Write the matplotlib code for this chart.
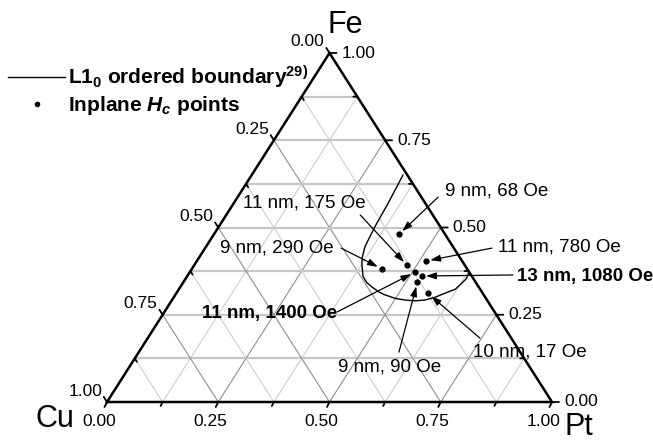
"""
Fe-Pt-Cu 三元相图：L1_0 有序边界与面内矫顽力点
"""
import numpy as np
import matplotlib
matplotlib.use("Agg")
import matplotlib.pyplot as plt
from matplotlib.lines import Line2D

plt.rcParams['font.family'] = ['Liberation Sans', 'DejaVu Sans']
plt.rcParams['mathtext.fontset'] = 'custom'
plt.rcParams['mathtext.rm'] = 'Liberation Sans:bold'
plt.rcParams['mathtext.it'] = 'Liberation Sans:bold:italic'
plt.rcParams['mathtext.bf'] = 'Liberation Sans:bold'

# 测量点 (Fe, Pt 组分, Cu = 1 - Fe - Pt)
point_labels = ['9 nm, 68 Oe', '11 nm, 780 Oe', '11 nm, 175 Oe', '9 nm, 290 Oe',
                '13 nm, 1080 Oe', '11 nm, 1400 Oe', '9 nm, 90 Oe', '10 nm, 17 Oe']
point_fe = [0.481, 0.404, 0.392, 0.382, 0.361, 0.372, 0.343, 0.311]
point_pt = [0.416, 0.515, 0.478, 0.426, 0.527, 0.506, 0.526, 0.566]
point_bold = [False, False, False, False, True, True, False, False]

# L1_0 有序边界
bound_fe = [0.650, 0.569, 0.502, 0.445, 0.416, 0.397, 0.359, 0.342, 0.330, 0.316, 0.307,
            0.297, 0.292, 0.290, 0.292, 0.300, 0.312, 0.323, 0.340, 0.354, 0.373]
bound_pt = [0.340, 0.347, 0.351, 0.357, 0.366, 0.374, 0.396, 0.413, 0.430, 0.452, 0.471,
            0.499, 0.524, 0.547, 0.568, 0.587, 0.604, 0.621, 0.627, 0.631, 0.627]

major = [0.0, 0.25, 0.5, 0.75, 1.0]
minor = [0.125, 0.375, 0.625, 0.875]

# 标注文字位置和箭头起点 (axes fraction)
text_pos = [(0.760, 0.605), (0.879, 0.444), (0.306, 0.570), (0.254, 0.441),
            (0.921, 0.361), (0.213, 0.255), (0.519, 0.100), (0.822, 0.143)]
tail_pos = [(0.744, 0.587), (0.865, 0.441), (0.569, 0.536), (0.526, 0.441),
            (0.912, 0.364), (0.517, 0.258), (0.656, 0.143), (0.838, 0.183)]


def tern(fe, pt):
    fe = np.asarray(fe, dtype=float)
    pt = np.asarray(pt, dtype=float)
    return pt + fe / 2, fe


fig = plt.figure(figsize=(6.53, 4.41), dpi=100)
ax = fig.add_axes([107 / 653, 39 / 441, 445 / 653, 349 / 441])
ax.set_xlim(0, 1)
ax.set_ylim(0, 1)
ax.axis('off')

# 网格
for k in range(1, 8):
    v = k / 8
    x, y = tern([v, v], [0, 1 - v])
    ax.plot(x, y, color='#c6c6c6', lw=1.6, zorder=1)
    dcol = '#8e8e8e' if k % 2 == 0 else '#cdcdcd'
    x, y = tern([0, 1 - v], [v, v])
    ax.plot(x, y, color=dcol, lw=0.8, zorder=1)
    x, y = tern([0, 1 - v], [1 - v, 0])
    ax.plot(x, y, color=dcol, lw=0.8, zorder=1)

# 三角形边框
x, y = tern([0, 0, 1, 0], [0, 1, 0, 0])
ax.plot(x, y, color='black', lw=1.8, clip_on=False, zorder=3, solid_joinstyle='miter')

tick = dict(arrowstyle='-', lw=1.3, color='black', shrinkA=0, shrinkB=0)
# 右侧 Fe 轴
for v in major:
    p = tern(v, 1 - v)
    ax.annotate('', xy=p, xytext=(7, 0), textcoords='offset pixels', arrowprops=tick)
    ax.annotate(f'{v:.2f}', xy=p, xytext=(12, 0), textcoords='offset pixels',
                ha='left', va='center', fontsize=12.5)
for v in minor:
    ax.annotate('', xy=tern(v, 1 - v), xytext=(-4, 0), textcoords='offset pixels', arrowprops=tick)
# 左侧 Cu 轴
for v in major:
    p = tern(1 - v, 0)
    ax.annotate('', xy=p, xytext=(-3.2, 5.1), textcoords='offset pixels', arrowprops=tick)
    ax.annotate(f'{v:.2f}', xy=p, xytext=(-5, 11), textcoords='offset pixels',
                ha='right', va='center', fontsize=12.5)
for v in minor:
    ax.annotate('', xy=tern(1 - v, 0), xytext=(2.1, -3.4), textcoords='offset pixels', arrowprops=tick)
# 底部 Pt 轴
for v in major:
    p = tern(0, v)
    ax.annotate('', xy=p, xytext=(-2.5, -5), textcoords='offset pixels', arrowprops=tick)
    ax.annotate(f'{v:.2f}', xy=p, xytext=(-8, -19), textcoords='offset pixels',
                ha='center', va='center', fontsize=12.5)
for v in minor:
    ax.annotate('', xy=tern(0, v), xytext=(-2, -4), textcoords='offset pixels', arrowprops=tick)

# 顶点标签
ax.annotate('Fe', xy=tern(1, 0), xytext=(16, 20), textcoords='offset pixels',
            ha='center', va='baseline', fontsize=22)
ax.annotate('Cu', xy=tern(0, 0), xytext=(-52, -25), textcoords='offset pixels',
            ha='center', va='baseline', fontsize=22)
ax.annotate('Pt', xy=tern(0, 1), xytext=(27, -33), textcoords='offset pixels',
            ha='center', va='baseline', fontsize=22)

# 边界和数据点
bx, by = tern(bound_fe, bound_pt)
ax.plot(bx, by, color='black', lw=1.0, zorder=4)
px, py = tern(point_fe, point_pt)
ax.plot(px, py, 'o', color='black', ms=3.5, zorder=5)

for i in range(len(point_labels)):
    ax.text(text_pos[i][0], text_pos[i][1], point_labels[i], transform=ax.transAxes,
            ha='left', va='center', fontsize=13.5,
            fontweight='bold' if point_bold[i] else 'normal', zorder=6)
    ax.annotate('', xy=(px[i], py[i]), xycoords='data',
                xytext=tail_pos[i], textcoords='axes fraction',
                arrowprops=dict(arrowstyle='-|>,head_length=0.6,head_width=0.2',
                                color='black', lw=0.9, mutation_scale=10,
                                shrinkA=0, shrinkB=3), zorder=6)

# 图例
handles = [Line2D([], [], color='black', lw=1.0),
           Line2D([], [], color='black', ls='none', marker='o', ms=3)]
labels = ['L1$_0$ ordered boundary$^{29)}$', 'Inplane $H_c$ points']
fig.legend(handles, labels, loc='upper left', bbox_to_anchor=(8 / 653, 1 - 64 / 441),
           frameon=False, prop=dict(weight='bold', size=15), handlelength=2.75,
           handletextpad=0.15, borderpad=0, borderaxespad=0, labelspacing=0.15)

fig.savefig('out.png', dpi=100)
